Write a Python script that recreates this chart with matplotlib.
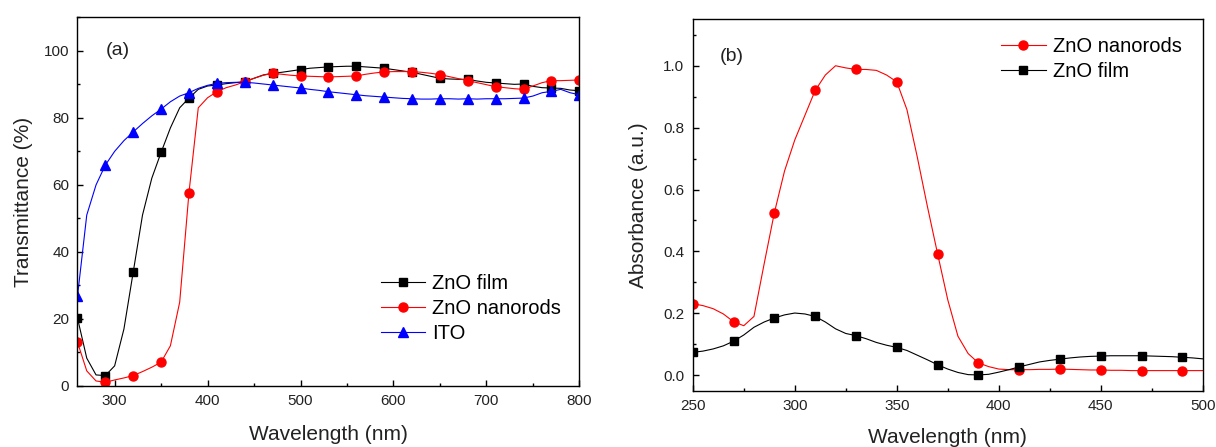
import matplotlib
matplotlib.use("Agg")
import matplotlib.pyplot as plt
from matplotlib.ticker import MultipleLocator, FormatStrFormatter

plt.rcParams["font.family"] = ["Liberation Sans", "DejaVu Sans"]

# (a) transmittance, read every 10 nm, markers every 30 nm
wl_a = list(range(260, 801, 10))
film_t = [20.3, 8.3, 3.3, 3.1, 6.0, 17.0, 34.0, 51.0, 62.0, 69.7,
          77.0, 83.0, 85.9, 88.5, 89.5, 89.8, 90.2, 90.5, 90.8, 91.8,
          92.8, 93.3, 93.6, 94.0, 94.4, 94.8, 95.0, 95.2, 95.3, 95.4,
          95.4, 95.2, 95.0, 94.8, 94.4, 94.0, 93.6, 93.0, 92.4, 91.8,
          91.6, 91.5, 91.5, 91.0, 90.6, 90.4, 90.2, 90.0, 90.1, 89.4,
          89.0, 88.9, 88.8, 88.3, 88.1]
rods_t = [13.1, 4.5, 1.5, 1.1, 1.8, 2.4, 3.1, 4.3, 5.6, 7.1,
          12.0, 25.0, 57.7, 83.0, 86.0, 87.8, 89.0, 89.8, 90.8, 91.8,
          92.7, 93.3, 93.0, 92.7, 92.5, 92.4, 92.3, 92.2, 92.3, 92.4,
          92.5, 93.0, 93.4, 93.7, 93.8, 93.8, 93.8, 93.6, 93.3, 92.9,
          92.3, 91.7, 91.1, 90.5, 89.9, 89.3, 89.0, 88.7, 88.5, 89.5,
          90.5, 91.1, 91.1, 91.2, 91.3]
ito_t = [26.7, 51.0, 60.0, 65.9, 70.0, 73.2, 75.8, 78.3, 80.6, 82.6,
         84.8, 86.5, 87.5, 88.8, 89.7, 90.3, 90.5, 90.6, 90.6, 90.4,
         90.1, 89.8, 89.5, 89.2, 88.9, 88.5, 88.2, 87.8, 87.5, 87.2,
         86.9, 86.6, 86.4, 86.2, 86.0, 85.8, 85.7, 85.6, 85.6, 85.7,
         85.7, 85.6, 85.7, 85.6, 85.7, 85.7, 85.7, 85.8, 85.9, 86.5,
         87.5, 87.9, 88.5, 87.5, 86.9]

# (b) absorbance, read every 5 nm, markers every 20 nm
wl_b = list(range(250, 501, 5))
rods_a = [0.231, 0.225, 0.215, 0.198, 0.173, 0.160, 0.190, 0.360, 0.525, 0.660,
          0.760, 0.840, 0.920, 0.970, 1.000, 0.993, 0.988, 0.988, 0.985, 0.970,
          0.948, 0.858, 0.707, 0.546, 0.393, 0.244, 0.126, 0.070, 0.040, 0.028,
          0.020, 0.018, 0.018, 0.018, 0.019, 0.019, 0.020, 0.019, 0.018, 0.017,
          0.017, 0.016, 0.016, 0.015, 0.015, 0.015, 0.015, 0.015, 0.015, 0.015,
          0.015]
film_a = [0.074, 0.078, 0.085, 0.095, 0.110, 0.130, 0.155, 0.172, 0.185, 0.195,
          0.201, 0.198, 0.190, 0.172, 0.150, 0.135, 0.128, 0.118, 0.106, 0.097,
          0.090, 0.080, 0.065, 0.050, 0.034, 0.020, 0.009, 0.002, 0.001, 0.003,
          0.010, 0.018, 0.027, 0.035, 0.043, 0.048, 0.052, 0.056, 0.059, 0.061,
          0.062, 0.063, 0.063, 0.063, 0.063, 0.062, 0.061, 0.060, 0.058, 0.056,
          0.053]

text_col = "#222222"


def style_axes(ax):
    for s in ax.spines.values():
        s.set_linewidth(1.0)
    ax.tick_params(which="both", direction="in", top=False, right=False,
                   labelsize=11, colors="black", labelcolor=text_col, width=1.0)
    ax.tick_params(which="major", length=4.5, pad=6)
    ax.tick_params(which="minor", length=2.5)


fig = plt.figure(figsize=(12.16, 4.47), dpi=100)
ax1 = fig.add_axes([0.0637, 0.1365, 0.4127, 0.8248])
ax2 = fig.add_axes([0.5697, 0.1259, 0.4194, 0.8309])

ax1.plot(wl_a, film_t, color="black", lw=0.8, marker="s", ms=6,
         markevery=3, label="ZnO film")
ax1.plot(wl_a, rods_t, color="red", lw=0.8, marker="o", ms=6.5,
         markevery=3, label="ZnO nanorods")
ax1.plot(wl_a, ito_t, color="blue", lw=0.8, marker="^", ms=7.5,
         markevery=3, label="ITO")
ax1.set_xlim(260, 800)
ax1.set_ylim(0, 110)
ax1.xaxis.set_major_locator(MultipleLocator(100))
ax1.xaxis.set_minor_locator(MultipleLocator(50))
ax1.set_yticks([0, 20, 40, 60, 80, 100])
ax1.yaxis.set_minor_locator(MultipleLocator(10))
ax1.set_xlabel("Wavelength (nm)", fontsize=15, color=text_col, labelpad=12)
ax1.set_ylabel("Transmittance (%)", fontsize=15, color=text_col, labelpad=8)
ax1.text(290, 100, "(a)", fontsize=14, color=text_col, va="center")
style_axes(ax1)
ax1.legend(loc="center left", bbox_to_anchor=(0.605, 0.209), frameon=False,
           fontsize=14.5, handlelength=2.2, handletextpad=0.35,
           labelspacing=0.3, borderpad=0, borderaxespad=0)

ax2.plot(wl_b, rods_a, color="red", lw=0.8, marker="o", ms=6.5,
         markevery=4, label="ZnO nanorods")
ax2.plot(wl_b, film_a, color="black", lw=0.8, marker="s", ms=6,
         markevery=4, label="ZnO film")
ax2.set_xlim(250, 500)
ax2.set_ylim(-0.05, 1.15)
ax2.xaxis.set_major_locator(MultipleLocator(50))
ax2.xaxis.set_minor_locator(MultipleLocator(25))
ax2.set_yticks([0.0, 0.2, 0.4, 0.6, 0.8, 1.0])
ax2.yaxis.set_minor_locator(MultipleLocator(0.1))
ax2.yaxis.set_major_formatter(FormatStrFormatter("%.1f"))
ax2.set_xlabel("Wavelength (nm)", fontsize=15, color=text_col, labelpad=11)
ax2.set_ylabel("Absorbance (a.u.)", fontsize=15, color=text_col, labelpad=11)
ax2.text(263, 1.03, "(b)", fontsize=14, color=text_col, va="center")
style_axes(ax2)
ax2.legend(loc="center left", bbox_to_anchor=(0.605, 0.893), frameon=False,
           fontsize=14.5, handlelength=2.2, handletextpad=0.35,
           labelspacing=0.3, borderpad=0, borderaxespad=0)

fig.savefig("out.png", dpi=100)
